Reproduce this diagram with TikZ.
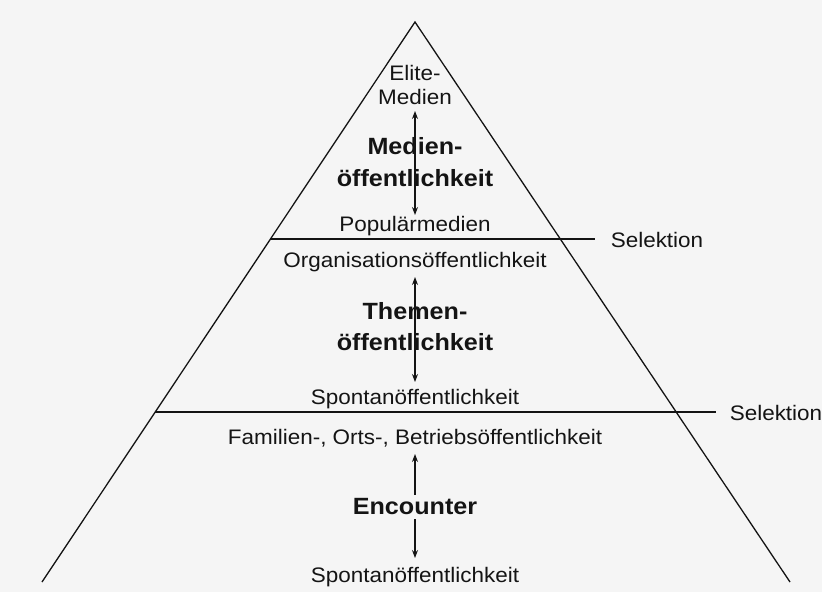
\documentclass[tikz,border=0pt]{standalone}
\usepackage{fontspec}
\setmainfont{Liberation Sans}
\usepackage{graphicx}
\usetikzlibrary{arrows.meta}
\definecolor{bg}{RGB}{245,245,245}
\definecolor{ink}{RGB}{20,20,20}
\newcommand\wtxt[1]{\scalebox{1.07}[1]{#1}}
\begin{document}
\begin{tikzpicture}[x=1pt,y=-1pt,
  lbl/.style={font=\fontsize{21}{24}\selectfont, inner sep=0pt, text=ink},
  bld/.style={font=\bfseries\fontsize{23.5}{27}\selectfont, inner sep=0pt, text=ink},
  edge/.style={draw=ink, line width=1.3pt},
  sep/.style={draw=ink, line width=1.5pt},
  dbl/.style={draw=ink, line width=1.1pt, {Stealth[length=8pt,width=6pt]}-{Stealth[length=8pt,width=6pt]}}
]
\fill[bg] (0,0) rectangle (822,592);
\useasboundingbox (0,0) rectangle (822,592);

% pyramid outline
\coordinate (A) at (415,22);
\coordinate (BL) at (42,582);
\coordinate (BR) at (790,582);
\draw[edge] (BL) -- (A) -- (BR);

% selection lines
\coordinate (L1) at (270.5,239);
\coordinate (R1) at (595,239);
\coordinate (L2) at (155.2,412);
\coordinate (R2) at (716,412);
\draw[sep] (L1) -- (R1);
\draw[sep] (L2) -- (R2);
\node[lbl] (sel1) at (657,240) {\wtxt{Selektion}};
\node[lbl] (sel2) at (776,413) {\wtxt{Selektion}};

% level 1
\node[lbl] (elite1) at (415,73) {\wtxt{Elite-}};
\node[lbl] (elite2) at (415,97) {\wtxt{Medien}};
\node[lbl] (pop) at (415,226) {\wtxt{Populärmedien}};
\draw[dbl, shorten <=14pt, shorten >=11pt] (elite2.center) -- (pop.center);
\node[bld] (med1) at (415,146) {\wtxt{Medien-}};
\node[bld] (med2) at (415,178) {\wtxt{öffentlichkeit}};

% level 2
\node[lbl] (org) at (415,262) {\wtxt{Organisationsöffentlichkeit}};
\node[lbl] (spon1) at (415,399) {\wtxt{Spontanöffentlichkeit}};
\draw[dbl, shorten <=15pt, shorten >=17pt] (org.center) -- (spon1.center);
\node[bld] (them1) at (415,311) {\wtxt{Themen-}};
\node[bld] (them2) at (415,342) {\wtxt{öffentlichkeit}};

% level 3
\node[lbl] (fam) at (415,438) {\wtxt{Familien-, Orts-, Betriebsöffentlichkeit}};
\node[lbl] (spon2) at (415,577) {\wtxt{Spontanöffentlichkeit}};
\draw[dbl, shorten <=16pt, shorten >=19pt] (fam.center) -- (spon2.center);
\node[bld, fill=bg, inner ysep=4pt] (enc) at (415,507) {\wtxt{Encounter}};
\end{tikzpicture}
\end{document}
